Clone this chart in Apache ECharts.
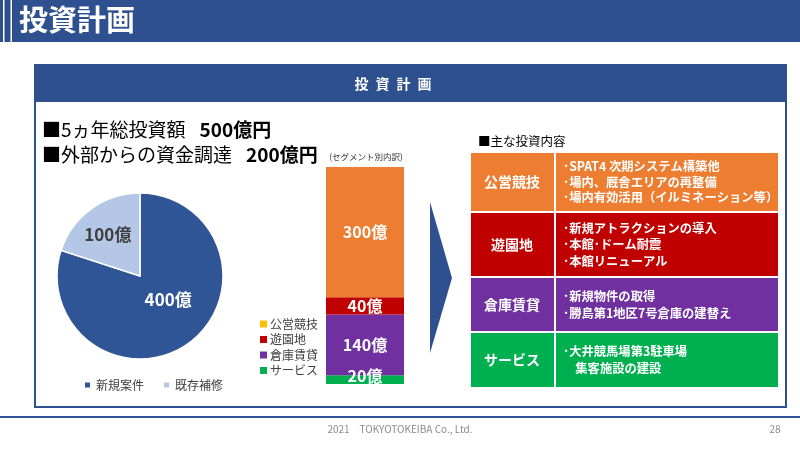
<!DOCTYPE html>
<html><head><meta charset="utf-8">
<script src="https://cdn.jsdelivr.net/npm/echarts@6/dist/echarts.min.js"></script>
<style>html,body{margin:0;padding:0;background:#fff}#c{width:800px;height:450px}</style>
</head><body><div id="c"></div>
<script>
const FONT = '"Noto Sans CJK JP","Noto Sans",sans-serif';
const pieNames = ['新規案件', '既存補修'];
const pieValues = [400, 100];
const pieColors = ['#2F5597', '#B4C7E7'];
const segNames = ['サービス', '倉庫賃貸', '遊園地', '公営競技']; // stack order, bottom to top
const segValues = [20, 140, 40, 300];
const segColors = ['#00B050', '#7030A0', '#C00000', '#ED7D31'];
const legendOrder = ['公営競技', '遊園地', '倉庫賃貸', 'サービス'];
const legendColors = ['#FFC000', '#C00000', '#7030A0', '#00B050'];
const tableLabels = ['公営競技', '遊園地', '倉庫賃貸', 'サービス'];
const tableColors = ['#ED7D31', '#C00000', '#7030A0', '#00B050'];
const tableItems = [
  ['･SPAT4 次期システム構築他', '･場内、厩舎エリアの再整備', '･場内有効活用（イルミネーション等）'],
  ['･新規アトラクションの導入', '･本館･ドーム耐震', '･本館リニューアル'],
  ['･新規物件の取得', '･勝島第1地区7号倉庫の建替え'],
  ['･大井競馬場第3駐車場', '　集客施設の建設']
];
const headline1 = ['■5ヵ年総投資額', '500億円'];
const headline2 = ['■外部からの資金調達', '200億円'];

const chart = echarts.init(document.getElementById('c'), null, {renderer: 'canvas'});

const BLUE = '#2E508F';
const rowTops = [153, 213, 278, 333];
const rowBottoms = [211, 276, 331, 387];
const lineGaps = [15.5, 16.5, 17, 17];

const g = [];
// header bar
g.push({type: 'rect', shape: {x: 0, y: 0, width: 800, height: 42}, style: {fill: BLUE}, z: 1});
g.push({type: 'rect', shape: {x: 3, y: 0, width: 1.5, height: 42}, style: {fill: '#fff'}, z: 2});
g.push({type: 'rect', shape: {x: 10.5, y: 0, width: 1.5, height: 42}, style: {fill: '#fff'}, z: 2});
g.push({type: 'text', x: 19, y: 20, style: {text: '投資計画', fill: '#fff', font: 'bold 29px ' + FONT, textVerticalAlign: 'middle'}, z: 3});
// frame box
g.push({type: 'rect', shape: {x: 35, y: 65, width: 751, height: 342}, style: {fill: 'none', stroke: BLUE, lineWidth: 2}, z: 1});
g.push({type: 'rect', shape: {x: 35, y: 65, width: 751, height: 37}, style: {fill: BLUE}, z: 1});
g.push({type: 'text', x: 393, y: 84, style: {text: '投\u2002資\u2002計\u2002画', fill: '#fff', font: 'bold 14px ' + FONT, textAlign: 'center', textVerticalAlign: 'middle'}, z: 3});
// footer
g.push({type: 'rect', shape: {x: 0, y: 416, width: 800, height: 2}, style: {fill: '#2F5597'}, z: 1});
g.push({type: 'text', x: 400, y: 429, style: {text: '2021　TOKYOTOKEIBA Co., Ltd.', fill: '#8c8c8c', font: '10px ' + FONT, textAlign: 'center', textVerticalAlign: 'middle'}, z: 3});
g.push({type: 'text', x: 775, y: 429, style: {text: '28', fill: '#8c8c8c', font: '10px ' + FONT, textAlign: 'center', textVerticalAlign: 'middle'}, z: 3});
// headlines
function headline(arr, y) {
  g.push({type: 'text', x: 42, y: y, style: {
    text: '{a|' + arr[0] + '}{s| }{b|' + arr[1] + '}',
    rich: {a: {font: '19px ' + FONT, fill: '#000'}, s: {font: '19px ' + FONT, width: 14}, b: {font: 'bold 19px ' + FONT, fill: '#000'}},
    textVerticalAlign: 'middle'}, z: 3});
}
headline(headline1, 130);
headline(headline2, 155);
g.push({type: 'text', x: 366, y: 157, style: {text: '(セグメント別内訳)', fill: '#333', font: '8.5px ' + FONT, textAlign: 'center', textVerticalAlign: 'middle'}, z: 3});
// arrow
g.push({type: 'polygon', shape: {points: [[430, 202], [452, 278], [430, 353]]}, style: {fill: BLUE}, z: 2});
// table
g.push({type: 'text', x: 478, y: 141, style: {text: '■主な投資内容', fill: '#000', font: '12.5px ' + FONT, textVerticalAlign: 'middle'}, z: 3});
tableLabels.forEach(function (lab, i) {
  const t = rowTops[i], b = rowBottoms[i];
  g.push({type: 'rect', shape: {x: 471, y: t, width: 83, height: b - t}, style: {fill: tableColors[i]}, z: 2});
  g.push({type: 'rect', shape: {x: 556, y: t, width: 222, height: b - t}, style: {fill: tableColors[i]}, z: 2});
  g.push({type: 'text', x: 512, y: (t + b) / 2, style: {text: lab, fill: '#fff', font: 'bold 14px ' + FONT, textAlign: 'center', textVerticalAlign: 'middle'}, z: 3});
  const items = tableItems[i];
  const mid = (t + b) / 2;
  items.forEach(function (s, k) {
    const y = mid + (k - (items.length - 1) / 2) * lineGaps[i];
    g.push({type: 'text', x: 563, y: y, style: {text: s, fill: '#fff', font: 'bold 12.3px ' + FONT, textVerticalAlign: 'middle'}, z: 3});
  });
});

const series = [];
series.push({
  type: 'pie', center: [140, 276], radius: 83, startAngle: 90, clockwise: true,
  itemStyle: {borderColor: '#fff', borderWidth: 1.5},
  label: {show: true, position: 'inside', formatter: '{c}億', fontFamily: FONT, fontWeight: 'bold', fontSize: 17},
  labelLine: {show: false},
  labelLayout: function (p) { return p.dataIndex === 0 ? {dx: 2, dy: -12} : {dx: -6, dy: -5}; },
  emphasis: {disabled: true}, animation: false,
  data: pieNames.map(function (n, i) {
    return {name: n, value: pieValues[i], itemStyle: {color: pieColors[i]},
      label: {color: i === 0 ? '#fff' : '#404040'}};
  })
});
segNames.forEach(function (n, i) {
  series.push({
    type: 'bar', name: n, stack: 'seg', barWidth: '100%', data: [segValues[i]],
    itemStyle: {color: segColors[i]},
    label: {show: true, position: 'inside', formatter: '{c}億', color: '#fff', fontFamily: FONT, fontWeight: 'bold', fontSize: 16,
      offset: i === 0 ? [0, -4] : [0, 0]},
    emphasis: {disabled: true}, animation: false
  });
});

chart.setOption({
  animation: false,
  grid: {left: 326, top: 167, width: 78, height: 217, containLabel: false},
  xAxis: {type: 'category', data: ['内訳'], show: false, boundaryGap: true},
  yAxis: {type: 'value', min: 0, max: 500, show: false},
  legend: [
    {data: pieNames, left: 78, top: 374, itemWidth: 7, itemHeight: 7, itemGap: 18, icon: 'rect',
      textStyle: {fontFamily: FONT, fontSize: 12, color: '#404040'}, selectedMode: false},
    {data: legendOrder.map(function (n, i) { return {name: n, itemStyle: {color: legendColors[i]}}; }),
      orient: 'vertical', left: 255, top: 313, itemWidth: 7, itemHeight: 7, itemGap: 3.5, icon: 'rect',
      textStyle: {fontFamily: FONT, fontSize: 12, color: '#404040', lineHeight: 12, padding: [0, 0, 0, -2]}, selectedMode: false}
  ],
  series: series,
  graphic: g
});
</script></body></html>
